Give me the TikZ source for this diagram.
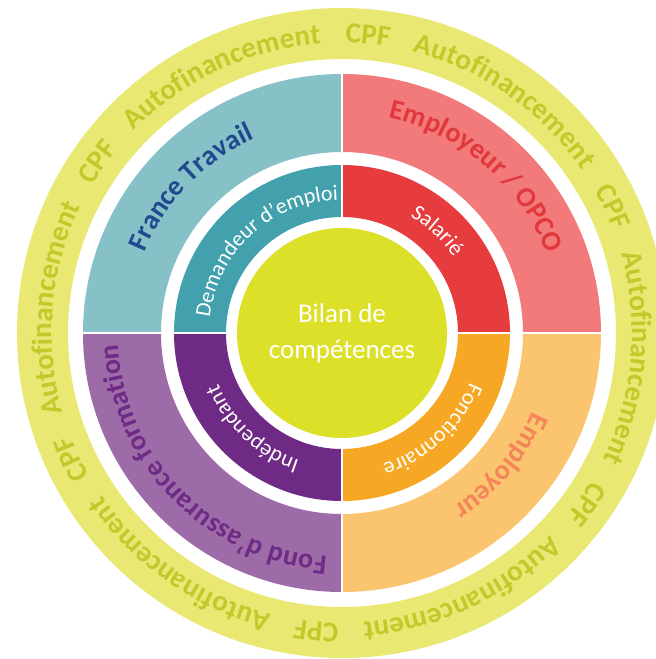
\documentclass[tikz,border=0pt]{standalone}
\usepackage{fontspec}
\setmainfont{Carlito}
\usepackage{tikz}
\usetikzlibrary{decorations.text}
\definecolor{cpfring}{HTML}{E8E873}
\definecolor{cpftext}{HTML}{C3C92A}
\definecolor{ftlight}{HTML}{86C1C8}
\definecolor{oplight}{HTML}{F27A7A}
\definecolor{folight}{HTML}{9D6BA8}
\definecolor{emlight}{HTML}{FAC56E}
\definecolor{ftdark}{HTML}{42A1AC}
\definecolor{opdark}{HTML}{E63C3E}
\definecolor{fodark}{HTML}{6E2A84}
\definecolor{emdark}{HTML}{F6A824}
\definecolor{centre}{HTML}{DDE028}
\definecolor{ftblue}{HTML}{1E4A8E}
\definecolor{opred}{HTML}{E0383C}
\definecolor{emorange}{HTML}{F4845A}
\tikzset{
  sep/.style={draw=white, line width=2pt},
  midlab/.style={text=white, align=center, font=\fontsize{27pt}{36pt}\selectfont},
}
% radius, mid angle, half span, format, text
\newcommand{\bendtext}[5]{%
  \path[decorate, decoration={text along path, text align=center, text={|#4|#5}}]
    (#2+#3:#1) arc[start angle=#2+#3, end angle=#2-#3, radius=#1];}
\newcommand{\cpffmt}{\fontsize{29pt}{29pt}\selectfont\bfseries\color{cpftext}}
\newcommand{\bigfmt}{\fontsize{28pt}{28pt}\selectfont\bfseries}
\newcommand{\smallfmt}{\fontsize{22pt}{22pt}\selectfont\color{white}}

\begin{document}
\begin{tikzpicture}
  \clip (-342pt,-326pt) rectangle (314pt,333pt);
  \fill[white] (-342pt,-326pt) rectangle (314pt,333pt);
  % outer ring
  \fill[cpfring, even odd rule] (0,0) circle (325pt) (0,0) circle (274pt);
  \foreach \a in {85,25,-35,-95,-155,145}{
    \bendtext{290pt}{\a}{15}{\cpffmt}{CPF}
    \bendtext{290pt}{\a-30}{28}{\cpffmt}{Autofinancement}
  }
  % financeurs
  \foreach \a/\c in {90/ftlight,0/oplight,180/folight,270/emlight}{
    \fill[\c] (\a:181pt) -- (\a:259pt) arc[start angle=\a, end angle=\a+90, radius=259pt]
      -- (\a+90:181pt) arc[start angle=\a+90, end angle=\a, radius=181pt] -- cycle;
  }
  % statuts
  \foreach \a/\c in {90/ftdark,0/opdark,180/fodark,270/emdark}{
    \fill[\c] (\a:116pt) -- (\a:168pt) arc[start angle=\a, end angle=\a+90, radius=168pt]
      -- (\a+90:116pt) arc[start angle=\a+90, end angle=\a, radius=116pt] -- cycle;
  }
  \foreach \a in {0,90,180,270}
    \draw[sep] (\a:110pt) -- (\a:265pt);
  \fill[centre] (0,0) circle (105pt);
  \node[midlab] (bilan) at (0,0) {Bilan de\\compétences};
  % labels
  \bendtext{213pt}{136}{40}{\bigfmt\color{ftblue}}{France Travail}
  \bendtext{220pt}{49.5}{40}{\bigfmt\color{opred}}{Employeur / OPCO}
  \bendtext{206pt}{-40}{30}{\bigfmt\color{emorange}}{Employeur}
  \bendtext{224pt}{-135.5}{46}{\bigfmt\color{fodark}}{Fond d'assurance formation}
  \bendtext{133pt}{132.5}{45}{\smallfmt}{Demandeur d'emploi}
  \bendtext{135pt}{47}{20}{\smallfmt}{Salarié}
  \bendtext{137pt}{-47}{30}{\smallfmt}{Fonctionnaire}
  \bendtext{134pt}{-133}{30}{\smallfmt}{Indépendant}
\end{tikzpicture}
\end{document}
